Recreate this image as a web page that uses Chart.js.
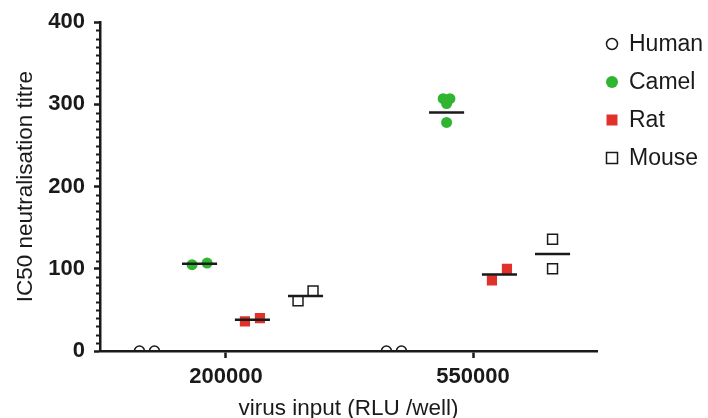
<!DOCTYPE html>
<html>
<head>
<meta charset="utf-8">
<script src="https://cdn.jsdelivr.net/npm/chart.js@4/dist/chart.umd.min.js"></script>
<style>
  html, body { margin: 0; padding: 0; background: #fff; }
  #wrap { width: 708px; height: 418px; }
</style>
</head>
<body>
<div id="wrap"><canvas id="titreChart" width="708" height="418"></canvas></div>
<script>
// virus input categories (x axis)
const categories = ["200000", "550000"];
const species = ["Human", "Camel", "Rat", "Mouse"];

// IC50 titres per species, one list per virus input
const humanTitre = [[0, 0], [0, 0]];
const camelTitre = [[105, 107], [307, 307, 301, 278]];
const ratTitre = [[36, 40], [86, 100]];
const mouseTitre = [[61, 73], [136, 100]];

// group means as drawn in the figure
const humanMean = [0, 0];
const camelMean = [106, 290];
const ratMean = [38, 93];
const mouseMean = [67, 118];

const yTicks = [0, 100, 200, 300, 400];

// layout helpers (x axis is category index)
const speciesOffset = [-0.32, -0.107, 0.107, 0.322];
const jitterStep = 0.0304;
const jitter = [
    [[-1, 1], [-1, 1]],
    [[-1, 1], [-0.45, 0.45, 0, 0]],
    [[-1, 1], [-1, 1]],
    [[-1, 1], [0, 0]],
];
const meanHalf = 0.071;

const titres = [humanTitre, camelTitre, ratTitre, mouseTitre];
const means = [humanMean, camelMean, ratMean, mouseMean];

const GREEN = "#2fb52f";
const RED = "#e0322a";
const INK = "#1a1a1a";
const FONT = "'Liberation Sans', Arial, sans-serif";

const styles = [
    { pointStyle: "circle", radius: 5, bg: "rgba(0,0,0,0)", border: INK, bw: 1.5 },
    { pointStyle: "circle", radius: 5.5, bg: GREEN, border: GREEN, bw: 0 },
    { pointStyle: "rect", radius: 7.2, bg: RED, border: RED, bw: 0 },
    { pointStyle: "rect", radius: 7, bg: "rgba(0,0,0,0)", border: INK, bw: 1.5 },
];

const pointSets = species.map((name, s) => {
    const pts = [];
    titres[s].forEach((vals, c) => {
        vals.forEach((v, k) => {
            pts.push({ x: c + speciesOffset[s] + jitter[s][c][k] * jitterStep, y: v });
        });
    });
    const st = styles[s];
    return {
        label: name,
        data: pts,
        pointStyle: st.pointStyle,
        pointRadius: st.radius,
        pointHoverRadius: st.radius,
        backgroundColor: st.bg,
        borderColor: st.border,
        pointBorderWidth: st.bw,
        order: 2,
    };
});

const meanPts = [];
species.forEach((name, s) => {
    if (s === 0) return; // human mean sits on the axis
    means[s].forEach((m, c) => {
        const cx = c + speciesOffset[s];
        meanPts.push({ x: cx - meanHalf, y: m }, { x: cx + meanHalf, y: m }, { x: cx, y: null });
    });
});

const meanSet = {
    label: "mean",
    data: meanPts,
    showLine: true,
    borderColor: INK,
    borderWidth: 2.5,
    pointRadius: 0,
    spanGaps: false,
    order: 1,
};

// minor ticks on y axis (every 10)
const minorTicks = {
    id: "minorTicks",
    afterDraw(chart) {
        const y = chart.scales.y;
        const ctx = chart.ctx;
        ctx.save();
        ctx.strokeStyle = INK;
        ctx.lineWidth = 2;
        for (let v = 10; v < 400; v += 10) {
            if (v % 100 === 0) continue;
            const py = Math.round(y.getPixelForValue(v)) + 0.5;
            ctx.beginPath();
            ctx.moveTo(y.right - 4, py);
            ctx.lineTo(y.right, py);
            ctx.stroke();
        }
        ctx.restore();
    },
};

// legend at the right
const sideLegend = {
    id: "sideLegend",
    afterDraw(chart) {
        const ctx = chart.ctx;
        ctx.save();
        ctx.font = "23px " + FONT;
        ctx.textBaseline = "middle";
        species.forEach((name, s) => {
            const st = styles[s];
            const cx = 612;
            const cy = 44 + s * 38;
            ctx.lineWidth = 1.5;
            ctx.strokeStyle = st.border;
            ctx.fillStyle = st.bg;
            ctx.beginPath();
            if (st.pointStyle === "circle") {
                ctx.arc(cx, cy, st.radius + 0.5, 0, Math.PI * 2);
            } else {
                ctx.rect(cx - 5.5, cy - 5.5, 11, 11);
            }
            ctx.fill();
            if (st.bw) ctx.stroke();
            ctx.fillStyle = INK;
            ctx.fillText(name, 629, cy + 1);
        });
        ctx.restore();
    },
};

new Chart(document.getElementById("titreChart"), {
    type: "scatter",
    data: { datasets: [meanSet, ...pointSets] },
    plugins: [minorTicks, sideLegend],
    options: {
        responsive: false,
        animation: false,
        layout: { padding: { top: 21, right: 111, bottom: 0, left: 0 } },
        plugins: {
            legend: { display: false },
            tooltip: { enabled: false },
        },
        scales: {
            x: {
                type: "linear",
                min: -0.5101,
                max: 1.502,
                afterBuildTicks: (scale) => {
                    scale.ticks = categories.map((c, i) => ({ value: i }));
                },
                afterFit: (scale) => { scale.height = 67; },
                ticks: {
                    callback: (v) => categories[v],
                    color: INK,
                    font: { family: FONT, size: 22, weight: "bold" },
                    padding: 6,
                    maxRotation: 0,
                },
                grid: { drawOnChartArea: false, tickLength: 7, tickWidth: 2.5, tickColor: INK },
                border: { color: INK, width: 2.5 },
                title: {
                    display: true,
                    text: "virus input (RLU /well)",
                    color: INK,
                    font: { family: FONT, size: 22.5 },
                    padding: { top: 0, bottom: -4 },
                },
            },
            y: {
                min: 0,
                max: 400,
                afterBuildTicks: (scale) => {
                    scale.ticks = yTicks.map((v) => ({ value: v }));
                },
                afterFit: (scale) => { scale.width = 100; },
                ticks: {
                    color: INK,
                    font: { family: FONT, size: 22, weight: "bold" },
                    padding: 9,
                },
                grid: { drawOnChartArea: false, tickLength: 6, tickWidth: 2.5, tickColor: INK },
                border: { color: INK, width: 2.5 },
                title: {
                    display: true,
                    text: "IC50 neutralisation titre",
                    color: INK,
                    font: { family: FONT, size: 22.5 },
                    padding: { top: 12, bottom: 0 },
                },
            },
        },
    },
});
</script>
</body>
</html>
